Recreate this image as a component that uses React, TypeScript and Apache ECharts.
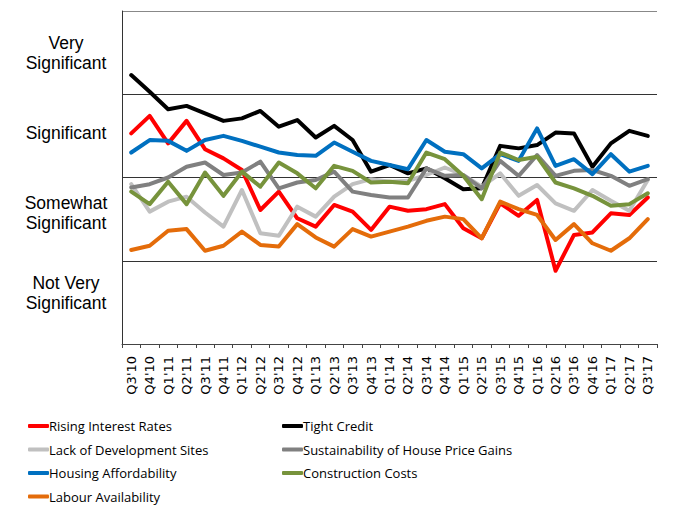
import React, { useEffect, useRef } from "react";
import * as echarts from "echarts";

const categories = [
  "Q3'10", "Q4'10", "Q1'11", "Q2'11", "Q3'11", "Q4'11", "Q1'12", "Q2'12", "Q3'12", "Q4'12",
  "Q1'13", "Q2'13", "Q3'13", "Q4'13", "Q1'14", "Q2'14", "Q3'14", "Q4'14", "Q1'15", "Q2'15",
  "Q3'15", "Q4'15", "Q1'16", "Q2'16", "Q3'16", "Q4'16", "Q1'17", "Q2'17", "Q3'17",
];

const risingInterestRates = [2.53, 2.74, 2.41, 2.68, 2.34, 2.23, 2.09, 1.61, 1.83, 1.51, 1.41, 1.67, 1.59, 1.37, 1.65, 1.6, 1.62, 1.68, 1.39, 1.27, 1.69, 1.54, 1.73, 0.88, 1.31, 1.34, 1.57, 1.55, 1.76];
const tightCredit = [3.23, 3.03, 2.82, 2.86, 2.77, 2.68, 2.71, 2.8, 2.61, 2.69, 2.48, 2.62, 2.45, 2.07, 2.15, 2.05, 2.11, 1.99, 1.86, 1.87, 2.38, 2.35, 2.39, 2.54, 2.53, 2.13, 2.41, 2.56, 2.5];
const lackOfDevelopmentSites = [1.92, 1.59, 1.71, 1.77, 1.58, 1.41, 1.85, 1.33, 1.3, 1.65, 1.53, 1.77, 1.92, 1.98, 1.95, 1.96, 2.03, 2.12, 2.03, 1.89, 2.05, 1.78, 1.91, 1.69, 1.6, 1.85, 1.72, 1.6, 1.97];
const sustainabilityOfHousePriceGains = [1.88, 1.92, 2.0, 2.13, 2.18, 2.03, 2.06, 2.19, 1.87, 1.94, 1.97, 2.07, 1.83, 1.79, 1.76, 1.76, 2.11, 2.02, 2.03, 1.87, 2.2, 2.02, 2.27, 2.02, 2.08, 2.09, 2.02, 1.9, 1.98];
const housingAffordability = [2.3, 2.45, 2.44, 2.32, 2.45, 2.5, 2.44, 2.37, 2.3, 2.27, 2.26, 2.42, 2.31, 2.2, 2.15, 2.1, 2.45, 2.31, 2.28, 2.11, 2.28, 2.2, 2.59, 2.14, 2.22, 2.04, 2.28, 2.07, 2.14];
const constructionCosts = [1.83, 1.68, 1.95, 1.68, 2.06, 1.78, 2.07, 1.89, 2.18, 2.05, 1.87, 2.14, 2.08, 1.94, 1.95, 1.93, 2.3, 2.22, 2.02, 1.74, 2.3, 2.21, 2.25, 1.94, 1.87, 1.78, 1.66, 1.68, 1.81];
const labourAvailability = [1.13, 1.18, 1.36, 1.38, 1.12, 1.18, 1.35, 1.19, 1.17, 1.44, 1.28, 1.17, 1.38, 1.29, 1.35, 1.41, 1.48, 1.53, 1.5, 1.27, 1.71, 1.62, 1.55, 1.25, 1.44, 1.21, 1.12, 1.27, 1.5];

const yTickValues = [0.5, 1.5, 2.5, 3.5];
const yTickLabels = ["Not Very\nSignificant", "Somewhat\nSignificant", "Significant", "Very\nSignificant"];

const seriesDefs = [
  { name: "Rising Interest Rates", data: risingInterestRates, color: "#FF0000" },
  { name: "Tight Credit", data: tightCredit, color: "#000000" },
  { name: "Lack of Development Sites", data: lackOfDevelopmentSites, color: "#C0C0C0" },
  { name: "Sustainability of House Price Gains", data: sustainabilityOfHousePriceGains, color: "#808080" },
  { name: "Housing Affordability", data: housingAffordability, color: "#0070C0" },
  { name: "Construction Costs", data: constructionCosts, color: "#77933C" },
  { name: "Labour Availability", data: labourAvailability, color: "#E46C0A" },
];

const legendText = {
  fontFamily: "Open Sans",
  fontSize: 13,
  color: "#000",
  lineHeight: 16,
  padding: [0, 0, 0, -5],
};

const legendCommon = {
  orient: "vertical",
  top: 418,
  height: 89,
  padding: 0,
  icon: "roundRect",
  itemWidth: 21,
  itemHeight: 4,
  itemGap: 7.5,
  textStyle: legendText,
};

export default function App() {
  const ref = useRef<HTMLDivElement>(null);
  useEffect(() => {
    if (!ref.current) return;
    const chart = echarts.init(ref.current, undefined, { renderer: "svg" });
    chart.setOption({
      animation: false,
      backgroundColor: "#fff",
      grid: { left: 122, right: 17, top: 11, bottom: 163, containLabel: false, outerBoundsMode: "none" },
      legend: [
        {
          ...legendCommon,
          data: ["Rising Interest Rates", "Lack of Development Sites", "Housing Affordability", "Labour Availability"],
          left: 28,
        },
        {
          ...legendCommon,
          data: ["Tight Credit", "Sustainability of House Price Gains", "Construction Costs"],
          left: 282,
        },
      ],
      xAxis: {
        type: "category",
        data: categories,
        boundaryGap: true,
        axisLine: { show: true, lineStyle: { color: "#444", width: 1 } },
        axisTick: { show: true, length: 4, lineStyle: { color: "#444" } },
        axisLabel: {
          rotate: 90,
          interval: 0,
          margin: 12,
          fontFamily: "DejaVu Sans",
          fontSize: 13,
          color: "#000",
        },
        splitLine: { show: false },
      },
      yAxis: [
        {
          type: "value",
          min: 0,
          max: 4,
          interval: 1,
          axisLine: { show: true, lineStyle: { color: "#333", width: 1 } },
          axisTick: { show: false },
          axisLabel: { show: false },
          splitLine: {
            show: true,
            lineStyle: { color: ["#444", "#333", "#333", "#333", "#888"], width: 1 },
          },
        },
        {
          type: "value",
          position: "left",
          min: -0.13,
          max: 4.017,
          axisLine: { show: false },
          axisTick: { show: false },
          splitLine: { show: false },
          axisLabel: {
            customValues: yTickValues,
            formatter: (v: number) => {
              const i = yTickValues.findIndex((t) => Math.abs(t - v) < 1e-6);
              return i >= 0 ? yTickLabels[i] : "";
            },
            align: "center",
            margin: 56,
            fontFamily: "Liberation Sans",
            fontSize: 17.5,
            lineHeight: 20,
            color: "#000",
          },
        },
      ],
      series: seriesDefs.map((s) => ({
        name: s.name,
        type: "line",
        data: s.data,
        yAxisIndex: 0,
        showSymbol: false,
        symbol: "none",
        color: s.color,
        lineStyle: { color: s.color, width: 4, cap: "round", join: "round" },
        emphasis: { disabled: true },
      })),
    });
    return () => chart.dispose();
  }, []);
  return (
    <div
      ref={ref}
      style={{ position: "absolute", left: 0, top: 0, width: 674, height: 507, background: "#fff" }}
    />
  );
}
